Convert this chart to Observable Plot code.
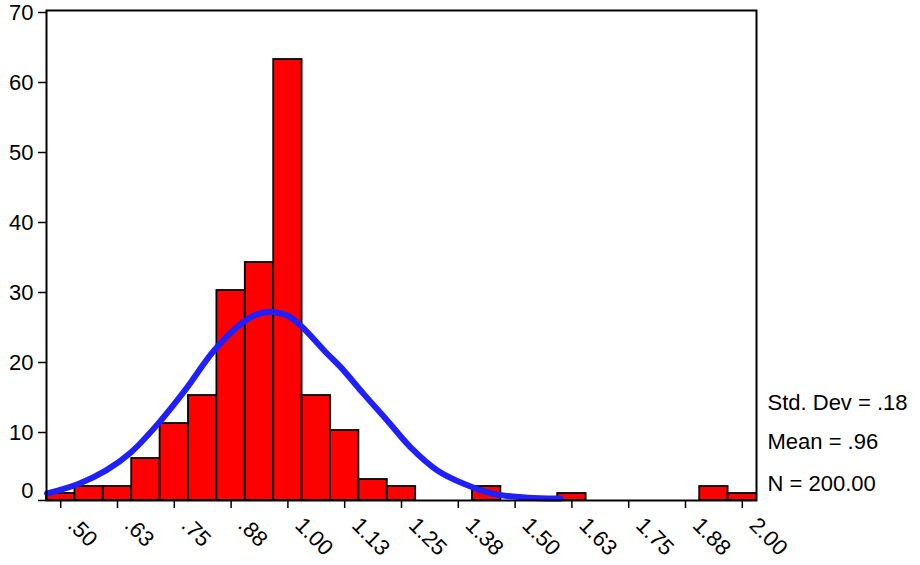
<!DOCTYPE html>
<html>
<head>
<meta charset="utf-8">
<script src="https://cdn.jsdelivr.net/npm/d3@7"></script>
<script src="https://cdn.jsdelivr.net/npm/@observablehq/plot@0.6"></script>
<style>
  html, body { margin: 0; padding: 0; background: #fff; }
  #chart svg { display: block; }
</style>
</head>
<body>
<div id="chart"></div>
<script>
// Histogram bins (centers) and counts
const binCenters = [0.5, 0.5625, 0.625, 0.6875, 0.75, 0.8125, 0.875, 0.9375, 1.0, 1.0625, 1.125, 1.1875, 1.25,
                    1.3125, 1.375, 1.4375, 1.5, 1.5625, 1.625, 1.6875, 1.75, 1.8125, 1.875, 1.9375, 2.0];
const counts = [1, 2, 2, 6, 11, 15, 30, 34, 63, 15, 10, 3, 2, 0, 0, 2, 0, 0, 1, 0, 0, 0, 0, 2, 1];
const binWidth = 0.0625;

// Fitted normal curve
const curveX = [0.47, 0.54, 0.60, 0.655, 0.714, 0.773, 0.837, 0.896, 0.932, 0.969, 1.0, 1.028, 1.086, 1.116, 1.167, 1.219, 1.270, 1.329, 1.387, 1.453, 1.527, 1.60];
const curveY = [1.0, 2.4, 4.3, 6.9, 10.95, 15.7, 21.4, 25.2, 26.6, 26.9, 26.4, 25.0, 21.0, 19.05, 15.2, 11.4, 7.6, 4.3, 2.4, 0.95, 0.4, 0.3];

// Axis ticks
const xTickValues = [0.5, 0.625, 0.75, 0.875, 1.0, 1.125, 1.25, 1.375, 1.5, 1.625, 1.75, 1.875, 2.0];
const xTickLabels = [".50", ".63", ".75", ".88", "1.00", "1.13", "1.25", "1.38", "1.50", "1.63", "1.75", "1.88", "2.00"];
const yTickValues = [0, 10, 20, 30, 40, 50, 60, 70];

// Summary statistics
const statLabels = ["Std. Dev = .18", "Mean = .96", "N = 200.00"];

const bars = binCenters.map((c, i) => ({center: c, count: counts[i]})).filter(d => d.count > 0);
const curve = curveX.map((x, i) => ({x, y: curveY[i]}));
const FS = 22;

const chart = Plot.plot({
  width: 920,
  height: 565,
  marginLeft: 46,
  marginRight: 164,
  marginTop: 10,
  marginBottom: 65,
  style: {fontFamily: "'Liberation Sans', Arial, sans-serif", fontSize: FS + "px", color: "#000", background: "#fff"},
  x: {domain: [binCenters[0] - binWidth / 2, binCenters[binCenters.length - 1] + binWidth / 2]},
  y: {domain: [0, 70]},
  marks: [
    Plot.rectY(bars, {
      x1: d => d.center - binWidth / 2,
      x2: d => d.center + binWidth / 2,
      y: "count",
      fill: "#ff0000",
      stroke: "#000",
      strokeWidth: 1.8
    }),
    Plot.line(curve, {x: "x", y: "y", stroke: "#1f1fff", strokeWidth: 6, curve: "catmull-rom"}),
    Plot.frame({stroke: "#000", strokeWidth: 2}),
    Plot.axisY({ticks: yTickValues.filter(v => v !== 0), tickSize: 8, tickPadding: 5, label: null, dy: 2, strokeWidth: 1.5, fontSize: FS}),
    Plot.axisY({ticks: [0], tickSize: 8, tickPadding: 5, label: null, text: null, strokeWidth: 1.5}),
    Plot.axisY({ticks: [0], tickSize: 0, tickPadding: 13, label: null, dy: -10, fontSize: FS}),
    Plot.axisX({
      ticks: xTickValues,
      tickSize: 8,
      label: null,
      text: null,
      strokeWidth: 1.5
    }),
    Plot.text(xTickValues, {
      x: d => d,
      text: d => xTickLabels[xTickValues.indexOf(d)],
      frameAnchor: "bottom",
      rotate: 45,
      textAnchor: "start",
      lineAnchor: "bottom",
      dx: 6,
      dy: 26,
      fontSize: FS
    }),
    Plot.text([statLabels[0]], {frameAnchor: "bottom-right", text: d => d, textAnchor: "start", lineAnchor: "bottom", dx: 11, dy: -91, fontSize: FS}),
    Plot.text([statLabels[1]], {frameAnchor: "bottom-right", text: d => d, textAnchor: "start", lineAnchor: "bottom", dx: 11, dy: -52, fontSize: FS}),
    Plot.text([statLabels[2]], {frameAnchor: "bottom-right", text: d => d, textAnchor: "start", lineAnchor: "bottom", dx: 11, dy: -10, fontSize: FS})
  ]
});
document.getElementById("chart").appendChild(chart);
</script>
</body>
</html>
